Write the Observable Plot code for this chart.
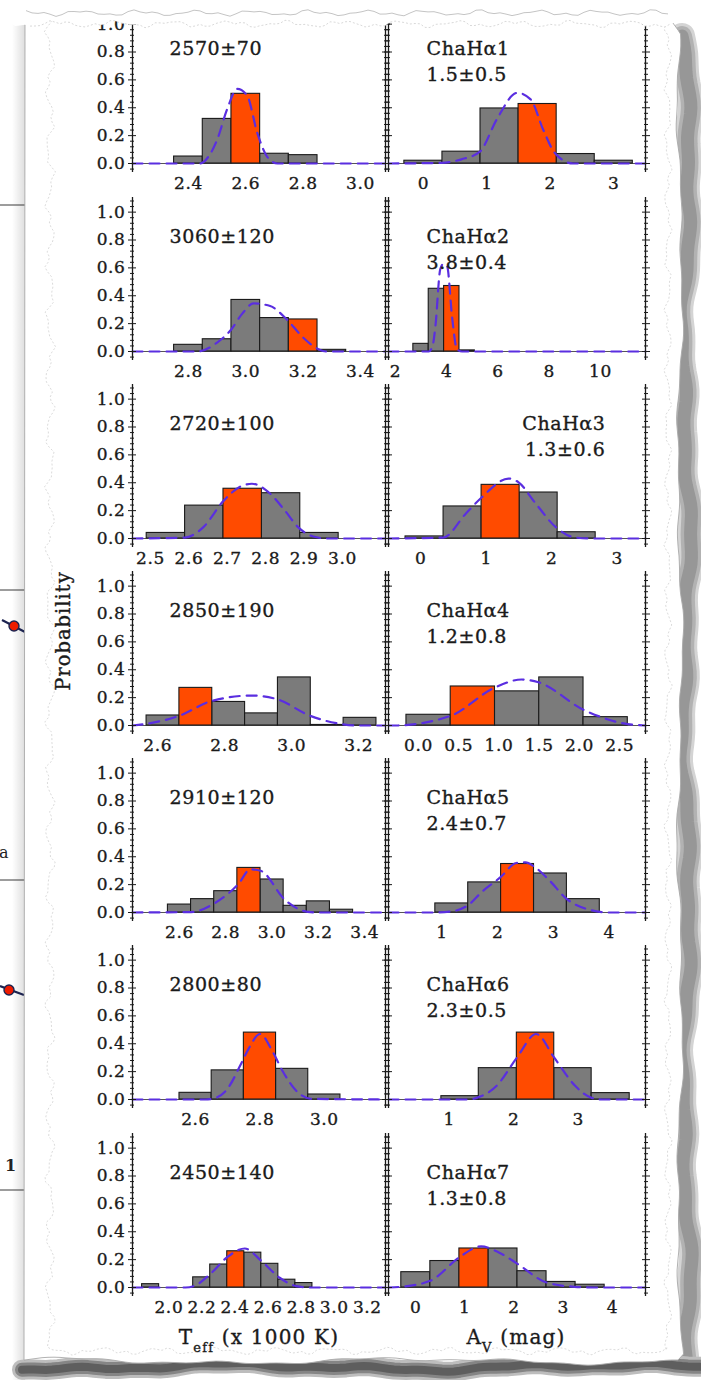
<!DOCTYPE html>
<html>
<head>
<meta charset="utf-8">
<script src="https://cdn.jsdelivr.net/npm/d3@7"></script>
<script src="https://cdn.jsdelivr.net/npm/@observablehq/plot@0.6"></script>
<style>
  html, body { margin: 0; padding: 0; background: #fff; }
  #page { position: relative; width: 701px; height: 1380px; overflow: hidden; background: #fff; }
  #page > svg { position: absolute; }
</style>
</head>
<body>
<div id="page"></div>
<script>
// ---------------- DATA ----------------
const teffText  = ["2570±70", "3060±120", "2720±100", "2850±190", "2910±120", "2800±80", "2450±140"];
const starNames = ["ChaHα1", "ChaHα2", "ChaHα3", "ChaHα4", "ChaHα5", "ChaHα6", "ChaHα7"];
const avText    = ["1.5±0.5", "3.8±0.4", "1.3±0.6", "1.2±0.8", "2.4±0.7", "2.3±0.5", "1.3±0.8"];

const teffRange = [[2.205, 3.087], [2.605, 3.487], [2.453, 3.112], [2.525, 3.28], [2.397, 3.49], [2.404, 3.19], [1.78, 3.31]];
const avRange   = [[-0.55, 3.50], [1.73, 11.76], [-0.49, 3.43], [-0.373, 2.82], [0.04, 4.65], [0.06, 4.045], [-0.55, 4.67]];

const teffTicks = [[2.4, 2.6, 2.8, 3.0], [2.8, 3.0, 3.2, 3.4], [2.5, 2.6, 2.7, 2.8, 2.9, 3.0], [2.6, 2.8, 3.0, 3.2],
                   [2.6, 2.8, 3.0, 3.2, 3.4], [2.6, 2.8, 3.0], [2.0, 2.2, 2.4, 2.6, 2.8, 3.0, 3.2]];
const avTicks   = [[0, 1, 2, 3], [2, 4, 6, 8, 10], [0, 1, 2, 3], [0, 0.5, 1, 1.5, 2, 2.5], [1, 2, 3, 4], [1, 2, 3], [0, 1, 2, 3, 4]];
const avTickFmt = ["d", "d", "d", ".1f", "d", "d", "d"];
const probTicks = [0, 0.2, 0.4, 0.6, 0.8, 1.0];

const teffEdges = [
  [2.35, 2.45, 2.55, 2.65, 2.75, 2.85],
  [2.75, 2.85, 2.95, 3.05, 3.15, 3.25, 3.35],
  [2.49, 2.59, 2.69, 2.79, 2.89, 2.99],
  [2.567, 2.665, 2.763, 2.861, 2.959, 3.057, 3.155, 3.253],
  [2.55, 2.65, 2.75, 2.85, 2.95, 3.05, 3.15, 3.25, 3.35],
  [2.55, 2.65, 2.75, 2.85, 2.95, 3.05],
  [1.838, 1.941, 2.044, 2.147, 2.250, 2.353, 2.456, 2.559, 2.662, 2.765, 2.868]
];
const teffProb = [
  [0.05, 0.32, 0.50, 0.07, 0.06],
  [0.048, 0.088, 0.37, 0.24, 0.23, 0.012],
  [0.04, 0.236, 0.357, 0.325, 0.04],
  [0.072, 0.27, 0.169, 0.087, 0.345, 0.004, 0.055],
  [0.057, 0.096, 0.153, 0.32, 0.237, 0.048, 0.08, 0.02],
  [0.048, 0.209, 0.48, 0.22, 0.036],
  [0.024, 0, 0, 0.073, 0.165, 0.26, 0.25, 0.17, 0.056, 0.032]
];
const teffBest = [2, 4, 2, 1, 3, 2, 5];

const avEdges = [
  [-0.3, 0.3, 0.9, 1.5, 2.1, 2.7, 3.3],
  [2.7, 3.3, 3.9, 4.5, 5.1],
  [-0.23, 0.35, 0.93, 1.51, 2.09, 2.67],
  [-0.15, 0.40, 0.95, 1.50, 2.05, 2.60],
  [0.88, 1.47, 2.06, 2.65, 3.24, 3.83],
  [0.88, 1.46, 2.05, 2.63, 3.21, 3.80],
  [-0.29, 0.30, 0.89, 1.48, 2.07, 2.66, 3.25, 3.84]
];
const avProb = [
  [0.02, 0.085, 0.395, 0.427, 0.068, 0.02],
  [0.055, 0.45, 0.47, 0.008],
  [0.015, 0.23, 0.385, 0.33, 0.045],
  [0.077, 0.28, 0.245, 0.345, 0.06],
  [0.065, 0.216, 0.348, 0.28, 0.096],
  [0.024, 0.225, 0.48, 0.225, 0.046],
  [0.11, 0.19, 0.28, 0.28, 0.117, 0.04, 0.02]
];
const avBest = [3, 2, 2, 1, 2, 2, 2];

// dashed fitted curves
const teffFitX = [
  [2.205, 2.44, 2.47, 2.50, 2.535, 2.57, 2.604, 2.64, 2.674, 2.71, 3.087],
  [2.605, 2.83, 2.90, 2.95, 2.987, 3.027, 3.085, 3.143, 3.20, 3.253, 3.28, 3.487],
  [2.453, 2.589, 2.637, 2.69, 2.732, 2.764, 2.807, 2.85, 2.885, 2.924, 2.96, 3.112],
  [2.525, 2.56, 2.665, 2.76, 2.88, 2.955, 3.055, 3.15, 3.2, 3.28],
  [2.397, 2.65, 2.75, 2.857, 2.906, 2.95, 3.056, 3.153, 3.2, 3.49],
  [2.404, 2.63, 2.66, 2.70, 2.739, 2.765, 2.80, 2.84, 2.872, 2.917, 2.96, 3.19],
  [1.78, 2.10, 2.15, 2.253, 2.355, 2.459, 2.56, 2.67, 2.77, 2.85, 3.31]
];
const teffFitY = [
  [0, 0, 0.05, 0.17, 0.39, 0.535, 0.49, 0.22, 0.05, 0, 0],
  [0, 0, 0.064, 0.16, 0.27, 0.345, 0.326, 0.23, 0.10, 0.017, 0, 0],
  [0, 0.007, 0.08, 0.27, 0.37, 0.393, 0.333, 0.20, 0.08, 0.014, 0, 0],
  [0, 0.01, 0.07, 0.175, 0.215, 0.19, 0.07, 0.01, 0, 0],
  [0, 0.003, 0.065, 0.21, 0.31, 0.30, 0.09, 0.005, 0, 0],
  [0, 0, 0.01, 0.08, 0.245, 0.365, 0.47, 0.34, 0.197, 0.053, 0.005, 0],
  [0, 0, 0.01, 0.10, 0.22, 0.28, 0.19, 0.07, 0.01, 0, 0]
];
const avFitX = [
  [-0.55, 0.29, 0.6, 0.89, 1.16, 1.48, 1.69, 1.89, 2.08, 2.36, 3.5],
  [1.73, 3.3, 3.45, 3.56, 3.75, 3.88, 4.02, 4.21, 4.4, 4.6, 11.76],
  [-0.49, 0.344, 0.685, 0.934, 1.34, 1.49, 1.74, 2.066, 2.36, 2.65, 3.43],
  [-0.373, -0.29, 0.40, 0.94, 1.28, 1.49, 2.06, 2.60, 2.82],
  [0.04, 0.9, 1.2, 1.47, 1.72, 2.06, 2.33, 2.5, 2.65, 2.92, 3.23, 3.67, 4.0, 4.65],
  [0.06, 1.3, 1.46, 1.74, 2.05, 2.35, 2.63, 2.95, 3.21, 3.4, 4.045],
  [-0.55, -0.3, 0.31, 0.9, 1.33, 1.7, 2.07, 2.66, 3.23, 3.6, 4.67]
];
const avFitY = [
  [0, 0.005, 0.03, 0.085, 0.32, 0.507, 0.46, 0.24, 0.07, 0, 0],
  [0, 0, 0.04, 0.18, 0.59, 0.63, 0.61, 0.25, 0.017, 0, 0],
  [0, 0.007, 0.176, 0.296, 0.43, 0.405, 0.26, 0.08, 0.007, 0, 0],
  [0, 0, 0.07, 0.27, 0.33, 0.31, 0.11, 0.01, 0],
  [0, 0, 0.01, 0.053, 0.15, 0.257, 0.355, 0.36, 0.33, 0.233, 0.10, 0.017, 0, 0],
  [0, 0, 0.017, 0.10, 0.30, 0.47, 0.30, 0.10, 0.012, 0, 0],
  [0, 0.005, 0.05, 0.22, 0.295, 0.25, 0.17, 0.036, 0.005, 0, 0]
];

// ---------------- STYLE & LAYOUT ----------------
const GRAY = "#7b7b7b", ORANGE = "#ff4b00", FIT = "#5a2ee0", INK = "#1a1a1a";
const FONT = "'DejaVu Serif', serif";
const zeroY = [163, 351, 538, 725, 912, 1099, 1287];
const frameX = [[132, 385], [388, 645]];
const ABOVE = 154, BELOW = 9;
const yDomain = [-0.0645, 1.105];
const minorTicks = d3.range(-1, 28).filter(i => i % 5 !== 0).map(i => +(i * 0.04).toFixed(2));

const page = document.getElementById("page");
const NS = "http://www.w3.org/2000/svg";

// ---------- background decoration (torn paper) ----------
const wob = (t, s) => 1.6 * Math.sin(t * 0.11 + s) + 0.9 * Math.sin(t * 0.29 + 2 * s) + 0.5 * Math.sin(t * 0.83 + 3 * s);
const smooth = (t, s) => 2.2 * Math.sin(t * 0.017 + s) + 1.4 * Math.sin(t * 0.043 + 2 * s) + 0.7 * Math.sin(t * 0.11 + 3 * s);
function pts(fn, a, b, step) { const r = []; for (let t = a; t <= b; t += step) r.push(fn(t)); return r; }
const toPath = arr => arr.map((p, i) => (i ? "L" : "M") + p[0].toFixed(1) + "," + p[1].toFixed(1)).join("");

const bg = document.createElementNS(NS, "svg");
bg.setAttribute("width", 701); bg.setAttribute("height", 1380);
bg.style.left = "0px"; bg.style.top = "0px";
{
  const rightLine = pts(y => [686 + 1.6 * smooth(y, 5), y], 36, 1366, 6);
  const bottomLine = pts(x => [x, 1367 + 1.2 * smooth(x, 7)], 22, 701, 6);
  const paper = [
    ...pts(x => [x, 14 + 1.2 * wob(x, 2)], 24, 660, 6),
    [670, 19], [678, 30],
    ...pts(y => [680 + 1.0 * smooth(y, 3), y], 34, 1358, 6),
    ...pts(x => [x, 1361 + 1.0 * smooth(x, 4)], 24, 680, 6).reverse(),
    [24, 1360], [25, 16]
  ];
  const fiber = [
    ...pts(x => [x, 11 + 1.5 * wob(x, 9)], 52, 668, 5),
    ...pts(y => [668 + 1.5 * wob(y, 8), y], 20, 1350, 5),
    ...pts(x => [x, 1351 + 1.5 * wob(x, 6)], 52, 668, 5).reverse(),
    ...pts(y => [50 + 2 * wob(y, 1), y], 12, 1351, 5).reverse()
  ];
  bg.innerHTML = `
    <defs>
      <linearGradient id="lshade" x1="0" x2="1" y1="0" y2="0">
        <stop offset="0" stop-color="#000" stop-opacity="0"/>
        <stop offset="1" stop-color="#000" stop-opacity="0.13"/>
      </linearGradient>
    </defs>
    <rect x="12" y="0" width="13" height="1380" fill="url(#lshade)"/>
    <g stroke="#3a3a3a" stroke-width="1">
      <line x1="0" x2="25" y1="205" y2="205"/>
      <line x1="0" x2="25" y1="590" y2="590"/>
      <line x1="0" x2="25" y1="880" y2="880"/>
      <line x1="0" x2="25" y1="1190" y2="1190"/>
    </g>
    <g>
      <path d="M2,620 L25,632" stroke="#1c2350" stroke-width="2.2"/>
      <circle cx="14" cy="626" r="5" fill="#ee1c00" stroke="#1c2350" stroke-width="1.4"/>
      <path d="M0,986 L24,995" stroke="#1c2350" stroke-width="2.2"/>
      <circle cx="9" cy="990" r="5" fill="#ee1c00" stroke="#1c2350" stroke-width="1.4"/>
    </g>
    <text x="-1" y="858" font-family="${FONT}" font-size="16" fill="#222">a</text>
    <text x="5" y="1171" font-family="${FONT}" font-size="16" font-weight="bold" fill="#222">1</text>
    <g fill="none" stroke-linejoin="round" stroke-linecap="round">
      <path d="${toPath(rightLine)}" stroke="#d4d4d4" stroke-width="26"/>
      <path d="${toPath(rightLine)}" stroke="#b2b2b2" stroke-width="20"/>
      <path d="${toPath(rightLine)}" stroke="#979797" stroke-width="13"/>
      <path d="${toPath(bottomLine)}" stroke="#bdbdbd" stroke-width="20"/>
      <path d="${toPath(bottomLine)}" stroke="#858585" stroke-width="14"/>
      <path d="${toPath(bottomLine)}" stroke="#5e5e5e" stroke-width="8"/>
    </g>
    <path d="${toPath(paper)}Z" fill="#fff" stroke="#a8a8a8" stroke-width="0.9"/>
    <path d="${toPath(fiber)}Z" fill="none" stroke="#d2d2d2" stroke-width="0.8" stroke-dasharray="2,2"/>
  `;
}
page.appendChild(bg);

// ---------------- PANELS ----------------
function yTicks(anchor, ticks, size, withText) {
  const sgn = anchor === "left" ? 1 : -1;
  return [
    Plot.axisY({anchor, ticks, tickSize: size, tickPadding: 3, tickFormat: ".1f",
                fill: withText ? INK : "none", textStroke: INK, textStrokeWidth: 0.35,
                stroke: INK, strokeWidth: 1}),
    Plot.axisY({anchor, ticks, tickSize: size, dx: sgn * size, tickFormat: ".1f",
                fill: "none", stroke: INK, strokeWidth: 1})
  ];
}

function makePanel(col, row, p) {
  const [fl, fr] = frameX[col];
  const mL = col === 0 ? 46 : 8, mR = 8, mT = 6, mB = 32;
  const W = mL + (fr - fl) + mR, H = mT + ABOVE + BELOW + mB;
  const bars = p.heights.map((h, i) => ({x1: p.edges[i], x2: p.edges[i + 1], h, best: i === p.best}));
  const fit = p.fitX.map((x, i) => ({x, y: p.fitY[i]}));
  const txt = {text: d => d, lineAnchor: "middle", fontSize: 19, fill: INK, stroke: INK, strokeWidth: 0.35};
  const texts = [];
  if (col === 0) {
    texts.push(Plot.text([p.label], {...txt, frameAnchor: "top-left", dx: 37, dy: 39, textAnchor: "start"}));
  } else {
    const right = p.alignRight;
    const base = {...txt, frameAnchor: right ? "top-right" : "top-left", dx: right ? -40 : 38,
      textAnchor: right ? "end" : "start"};
    texts.push(Plot.text([p.name], {...base, dy: 39}));
    texts.push(Plot.text([p.label], {...base, dy: 65}));
  }
  const svg = Plot.plot({
    width: W, height: H,
    marginLeft: mL, marginRight: mR, marginTop: mT, marginBottom: mB,
    x: {domain: p.domain, label: null},
    y: {domain: yDomain, label: null},
    style: {background: "transparent", overflow: "visible", fontFamily: FONT, fontSize: "17px",
            color: INK, letterSpacing: "0.6px"},
    marks: [
      Plot.ruleY([0], {stroke: "#555", strokeWidth: 1}),
      Plot.rect(bars.filter(d => !d.best), {x1: "x1", x2: "x2", y1: () => 0, y2: "h",
        fill: GRAY, stroke: INK, strokeWidth: 1.1}),
      Plot.rect(bars.filter(d => d.best), {x1: "x1", x2: "x2", y1: () => 0, y2: "h",
        fill: ORANGE, stroke: INK, strokeWidth: 1.1}),
      Plot.line(fit, {x: "x", y: "y", stroke: FIT, strokeWidth: 2.2, strokeDasharray: "10,7",
        curve: "monotone-x"}),
      Plot.ruleX(p.domain, {stroke: INK, strokeWidth: 1.3}),
      ...yTicks("left", probTicks, 4, col === 0),
      ...yTicks("left", minorTicks, 2, false),
      ...yTicks("right", probTicks, 4, false),
      ...yTicks("right", minorTicks, 2, false),
      Plot.axisX({anchor: "bottom", ticks: p.ticks, tickSize: 0, tickPadding: 4, tickFormat: p.fmt,
        fill: INK, textStroke: INK, textStrokeWidth: 0.35}),
      ...texts
    ]
  });
  svg.style.position = "absolute";
  svg.style.left = (fl - mL) + "px";
  svg.style.top = (zeroY[row] - ABOVE - mT) + "px";
  page.appendChild(svg);
}

for (let r = 0; r < 7; r++) {
  makePanel(0, r, {domain: teffRange[r], ticks: teffTicks[r], fmt: ".1f",
    edges: teffEdges[r], heights: teffProb[r], best: teffBest[r],
    fitX: teffFitX[r], fitY: teffFitY[r], label: teffText[r]});
  makePanel(1, r, {domain: avRange[r], ticks: avTicks[r], fmt: avTickFmt[r],
    edges: avEdges[r], heights: avProb[r], best: avBest[r],
    fitX: avFitX[r], fitY: avFitY[r], label: avText[r], name: starNames[r], alignRight: r === 2});
}

// ---------- front overlay: torn top edge and axis titles ----------
const fg = document.createElementNS(NS, "svg");
fg.setAttribute("width", 701); fg.setAttribute("height", 1380);
fg.style.left = "0px"; fg.style.top = "0px"; fg.style.pointerEvents = "none";
{
  const topEdge = pts(x => [x, 24 + 1.4 * wob(x, 11)], 0, 701, 5);
  const cover = [[0, 0], [701, 0], ...topEdge.slice().reverse()];
  fg.innerHTML = `
    <path d="${toPath(cover)}Z" fill="#fff"/>
    <path d="${toPath(topEdge.filter(p => p[0] > 26 && p[0] < 672))}" fill="none" stroke="#cfcfcf" stroke-width="0.8" stroke-dasharray="2,2"/>
    <path d="${toPath(pts(x => [x, 13 + 1.2 * wob(x, 2)], 26, 668, 6))}" fill="none" stroke="#b5b5b5" stroke-width="0.8"/>
    <g font-family="${FONT}" fill="${INK}" stroke="${INK}" stroke-width="0.35">
      <text transform="translate(63,631) rotate(-90)" text-anchor="middle" dominant-baseline="central"
            font-size="19.5" letter-spacing="1">Probability</text>
      <text x="259" y="1344" text-anchor="middle" font-size="20" letter-spacing="1.2">T<tspan font-size="13" dy="8">eff</tspan><tspan dy="-8"> (x 1000 K)</tspan></text>
      <text x="516" y="1344" text-anchor="middle" font-size="20" letter-spacing="1.2">A<tspan font-size="13" dy="8">V</tspan><tspan dy="-8"> (mag)</tspan></text>
    </g>
  `;
}
page.appendChild(fg);
</script>
</body>
</html>
